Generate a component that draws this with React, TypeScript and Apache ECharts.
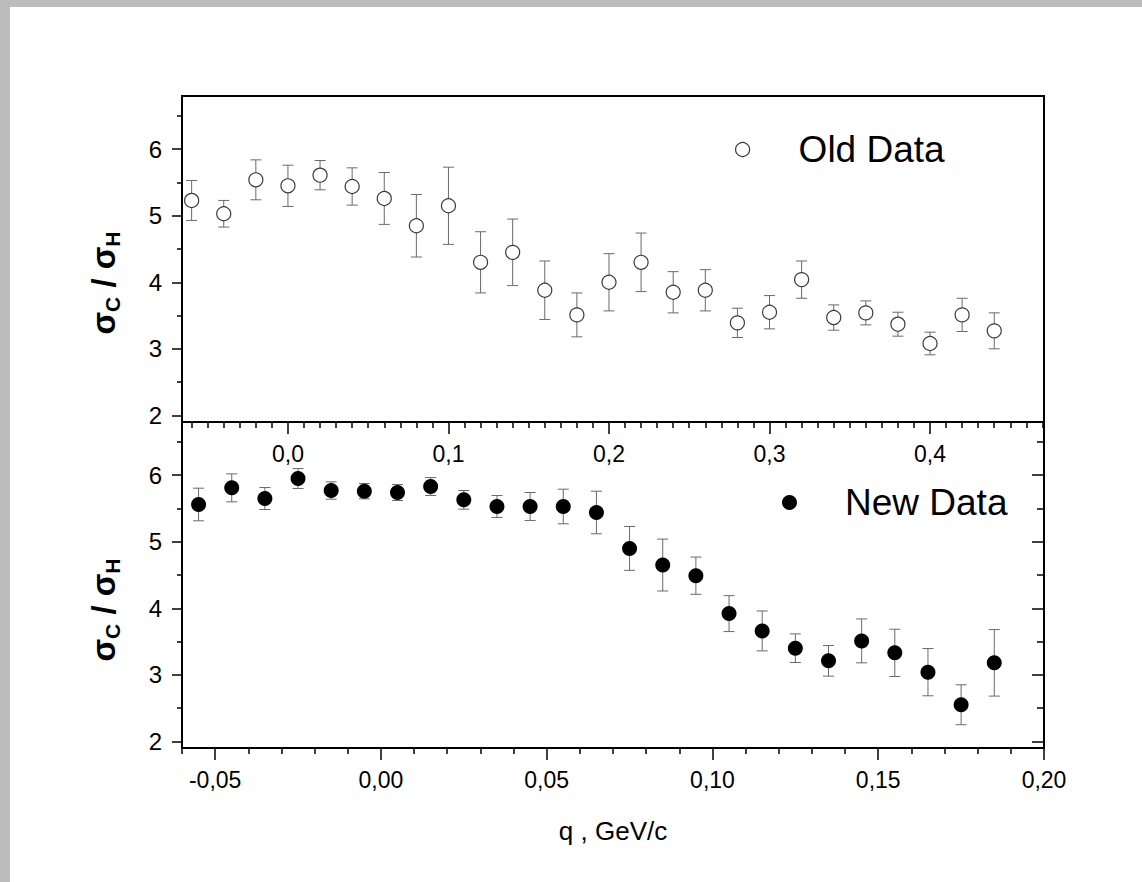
import React, { useEffect, useRef } from "react";
import * as echarts from "echarts";

// ---- Data ----
const oldQ = [-0.06, -0.04, -0.02, 0.0, 0.02, 0.04, 0.06, 0.08, 0.1, 0.12, 0.14, 0.16, 0.18, 0.2, 0.22, 0.24, 0.26, 0.28, 0.3, 0.32, 0.34, 0.36, 0.38, 0.4, 0.42, 0.44];
const oldRatio = [5.23, 5.03, 5.54, 5.45, 5.61, 5.44, 5.26, 4.85, 5.15, 4.3, 4.45, 3.88, 3.51, 4.0, 4.3, 3.85, 3.88, 3.39, 3.55, 4.04, 3.47, 3.54, 3.37, 3.08, 3.51, 3.27];
const oldErr = [0.3, 0.2, 0.3, 0.31, 0.22, 0.28, 0.39, 0.47, 0.58, 0.46, 0.5, 0.44, 0.33, 0.43, 0.44, 0.31, 0.31, 0.22, 0.25, 0.28, 0.19, 0.18, 0.18, 0.17, 0.25, 0.27];

const newQ = [-0.055, -0.045, -0.035, -0.025, -0.015, -0.005, 0.005, 0.015, 0.025, 0.035, 0.045, 0.055, 0.065, 0.075, 0.085, 0.095, 0.105, 0.115, 0.125, 0.135, 0.145, 0.155, 0.165, 0.175, 0.185];
const newRatio = [5.56, 5.81, 5.65, 5.95, 5.77, 5.76, 5.74, 5.83, 5.63, 5.53, 5.53, 5.53, 5.44, 4.9, 4.65, 4.49, 3.92, 3.66, 3.4, 3.21, 3.51, 3.33, 3.04, 2.55, 3.18];
const newErr = [0.245, 0.21, 0.165, 0.15, 0.13, 0.115, 0.12, 0.135, 0.14, 0.165, 0.21, 0.26, 0.32, 0.33, 0.39, 0.28, 0.27, 0.3, 0.215, 0.23, 0.33, 0.355, 0.355, 0.3, 0.5];

// ---- Axis ticks / labels ----
const topXMajor = [0.0, 0.1, 0.2, 0.3, 0.4];
const bottomXMajor = [-0.05, 0.0, 0.05, 0.1, 0.15, 0.2];
const yMajor = [2, 3, 4, 5, 6];
const yMinor = [2.5, 3.5, 4.5, 5.5, 6.5];
const topXRange = [-0.066, 0.471];
const bottomXRange = [-0.06, 0.2];
const yRange = [1.9, 6.8];

function hundredths(from: number, to: number, skip: number[]): number[] {
  const out: number[] = [];
  for (let i = Math.round(from * 100); i <= Math.round(to * 100); i++) {
    const v = i / 100;
    if (!skip.some((s) => Math.abs(s - v) < 1e-9)) out.push(v);
  }
  return out;
}
const topXMinor = hundredths(-0.06, 0.47, topXMajor);
const bottomXMinor = hundredths(-0.06, 0.19, bottomXMajor);

const FONT = 'Arial, "Liberation Sans", sans-serif';
const BAR = "#6a6a6a";

function errorItem(params: any, api: any) {
  const x = api.value(0);
  const lo = api.value(1);
  const hi = api.value(2);
  const a = api.coord([x, hi]);
  const b = api.coord([x, lo]);
  const w = 5.5;
  const style = { stroke: BAR, lineWidth: 1 };
  return {
    type: "group",
    children: [
      { type: "line", shape: { x1: a[0], y1: a[1], x2: b[0], y2: b[1] }, style },
      { type: "line", shape: { x1: a[0] - w, y1: a[1], x2: a[0] + w, y2: a[1] }, style },
      { type: "line", shape: { x1: b[0] - w, y1: b[1], x2: b[0] + w, y2: b[1] }, style },
    ],
  };
}

function xMajorAxis(gridIndex: number, range: number[], ticks: number[], digits: number) {
  return {
    type: "value",
    gridIndex,
    position: "bottom",
    min: range[0],
    max: range[1],
    axisLine: { show: true, onZero: false, lineStyle: { color: "#000", width: 2 } },
    axisTick: { show: true, inside: false, length: 12, customValues: ticks, lineStyle: { color: "#000", width: 1.5 } },
    axisLabel: {
      show: true,
      customValues: ticks,
      margin: 20,
      color: "#000",
      fontSize: 23,
      fontFamily: FONT,
      formatter: (v: number) => v.toFixed(digits).replace(".", ","),
    },
    splitLine: { show: false },
  };
}
function xMinorAxis(gridIndex: number, range: number[], ticks: number[]) {
  return {
    type: "value",
    gridIndex,
    position: "bottom",
    min: range[0],
    max: range[1],
    axisLine: { show: false, onZero: false },
    axisTick: { show: true, inside: false, length: 6, customValues: ticks, lineStyle: { color: "#000", width: 1.5 } },
    axisLabel: { show: false },
    splitLine: { show: false },
  };
}
function yAxisDef(gridIndex: number, position: string, ticks: number[], len: number, inside: boolean, labels: boolean) {
  return {
    type: "value",
    gridIndex,
    position,
    min: yRange[0],
    max: yRange[1],
    axisLine: { show: true, onZero: false, lineStyle: { color: "#000", width: 2 } },
    axisTick: { show: true, inside, length: len, customValues: ticks, lineStyle: { color: "#000", width: 1.5 } },
    axisLabel: labels
      ? { show: true, customValues: ticks, margin: 20, color: "#000", fontSize: 24, fontFamily: FONT }
      : { show: false },
    splitLine: { show: false },
  };
}

const titleRich = {
  a: { fontSize: 33, fontWeight: "bold", fontFamily: FONT, lineHeight: 40, fill: "#000", color: "#000" },
  b: { fontSize: 21, fontWeight: "bold", fontFamily: FONT, lineHeight: 20, verticalAlign: "bottom", fill: "#000", color: "#000" },
};
const titleText = "{a|σ}{b|C}{a| / σ}{b|H}";

export default function App() {
  const ref = useRef<HTMLDivElement>(null);
  useEffect(() => {
    if (!ref.current) return;
    const chart = echarts.init(ref.current, null, { renderer: "svg" });
    const oldErrData = oldQ.map((q, i) => [q, oldRatio[i] - oldErr[i], oldRatio[i] + oldErr[i]]);
    const newErrData = newQ.map((q, i) => [q, newRatio[i] - newErr[i], newRatio[i] + newErr[i]]);
    const option: any = {
      animation: false,
      grid: [
        { left: 182, top: 96, width: 862, height: 326, show: true, borderColor: "#000", borderWidth: 2, backgroundColor: "transparent" },
        { left: 182, top: 422, width: 862, height: 326, show: true, borderColor: "#000", borderWidth: 2, backgroundColor: "transparent" },
      ],
      xAxis: [
        xMajorAxis(0, topXRange, topXMajor, 1),
        xMinorAxis(0, topXRange, topXMinor),
        {
          ...xMajorAxis(1, bottomXRange, bottomXMajor, 2),
          name: "q , GeV/c",
          nameLocation: "middle",
          nameGap: 70,
          nameTextStyle: { fontSize: 26, fontFamily: FONT, color: "#000" },
        },
        xMinorAxis(1, bottomXRange, bottomXMinor),
      ],
      yAxis: [
        yAxisDef(0, "left", yMajor, 10, false, true),
        yAxisDef(0, "left", yMinor, 5, false, false),
        yAxisDef(1, "left", yMajor, 10, false, true),
        yAxisDef(1, "left", yMinor, 5, false, false),
        yAxisDef(1, "right", yMajor, 12, true, false),
        yAxisDef(1, "right", yMinor, 7, true, false),
      ],
      legend: [
        {
          data: [{ name: "Old Data", icon: "circle", itemStyle: { color: "#fff", borderColor: "#3a3a3a", borderWidth: 1.2, opacity: 1 } }],
          left: 735,
          top: 131,
          padding: 0,
          itemWidth: 14,
          itemHeight: 14,
          selectedMode: false,
          textStyle: { fontSize: 37, fontFamily: FONT, color: "#000", padding: [0, 0, 0, 44] },
        },
        {
          data: [{ name: "New Data", icon: "circle", itemStyle: { color: "#000", opacity: 1 } }],
          left: 782,
          top: 484,
          padding: 0,
          itemWidth: 15,
          itemHeight: 15,
          selectedMode: false,
          textStyle: { fontSize: 37, fontFamily: FONT, color: "#000", padding: [0, 0, 0, 43] },
        },
      ],
      graphic: [
        {
          type: "text",
          x: 103,
          y: 283,
          rotation: Math.PI / 2,
          style: { text: titleText, rich: titleRich, align: "center", verticalAlign: "middle", fill: "#000" },
        },
        {
          type: "text",
          x: 103,
          y: 610,
          rotation: Math.PI / 2,
          style: { text: titleText, rich: titleRich, align: "center", verticalAlign: "middle", fill: "#000" },
        },
      ],
      series: [
        {
          name: "Old Data err",
          type: "custom",
          xAxisIndex: 0,
          yAxisIndex: 0,
          renderItem: errorItem,
          encode: { x: 0, y: [1, 2] },
          data: oldErrData,
          z: 1,
          silent: true,
        },
        {
          name: "Old Data",
          type: "scatter",
          xAxisIndex: 0,
          yAxisIndex: 0,
          symbol: "circle",
          symbolSize: 14,
          itemStyle: { color: "#fff", borderColor: "#3a3a3a", borderWidth: 1.2, opacity: 1 },
          data: oldQ.map((q, i) => [q, oldRatio[i]]),
          z: 3,
        },
        {
          name: "New Data err",
          type: "custom",
          xAxisIndex: 2,
          yAxisIndex: 2,
          renderItem: errorItem,
          encode: { x: 0, y: [1, 2] },
          data: newErrData,
          z: 1,
          silent: true,
        },
        {
          name: "New Data",
          type: "scatter",
          xAxisIndex: 2,
          yAxisIndex: 2,
          symbol: "circle",
          symbolSize: 15,
          itemStyle: { color: "#000", opacity: 1 },
          data: newQ.map((q, i) => [q, newRatio[i]]),
          z: 3,
        },
      ],
    };
    chart.setOption(option);
    return () => chart.dispose();
  }, []);

  return (
    <div style={{ position: "fixed", left: 0, top: 0, width: 1142, height: 882, background: "#bcbcbc" }}>
      <div style={{ position: "absolute", left: 10, top: 7, right: 0, bottom: 0, background: "#ffffff" }} />
      <div ref={ref} style={{ position: "absolute", left: 0, top: 0, width: 1142, height: 882 }} />
    </div>
  );
}
